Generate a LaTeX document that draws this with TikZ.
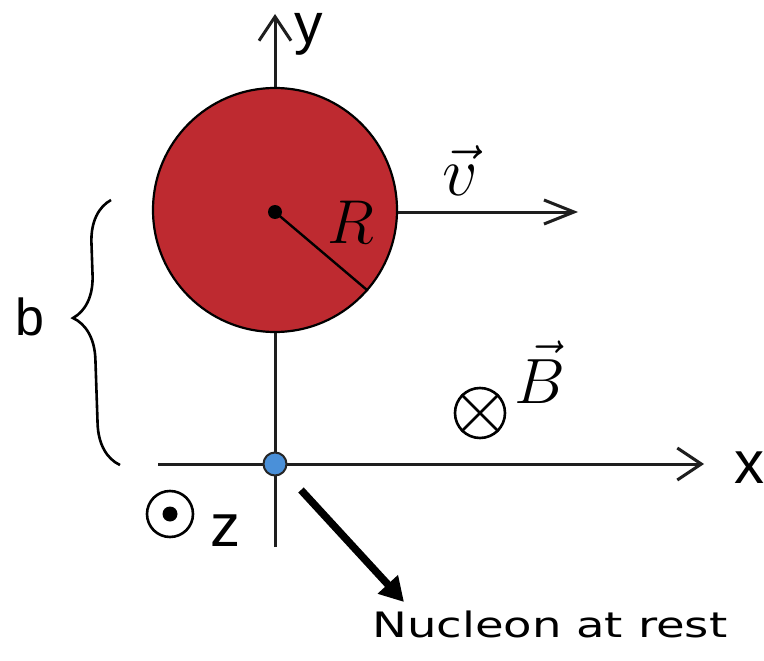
\RequirePackage{fix-cm}
\documentclass[tikz,border=0pt]{standalone}
\usepackage{fontspec}
\setsansfont{Liberation Sans}
\newfontfamily\notefont{DejaVu Sans}
\usetikzlibrary{arrows.meta,decorations.pathreplacing}
\definecolor{ballred}{RGB}{190,42,48}
\definecolor{nucblue}{RGB}{74,144,217}
\definecolor{axisgray}{RGB}{30,30,30}
\begin{document}
\begin{tikzpicture}[x=1pt,y=-1pt,
  axis/.style={line width=3pt, draw=axisgray, -{Straight Barb[length=24pt,width=32pt,line width=3pt]}},
  vecline/.style={line width=3pt, draw=axisgray, -{Straight Barb[length=30pt,width=24pt,line width=3pt]}},
  sanslbl/.style={font=\sffamily\fontsize{60}{64}\selectfont, inner sep=0pt, anchor=base},
  mathlbl/.style={inner sep=0pt, anchor=base},
  dirsym/.style={circle, draw=black, line width=2.6pt, inner sep=0pt},
  dotnode/.style={circle, fill=black, inner sep=0pt},
  pusharrow/.style={line width=7.5pt, -{Triangle[length=24pt,width=26pt]}}
]
\useasboundingbox (0,0) rectangle (764,661);
% axes
\coordinate (xs) at (158,464);
\coordinate (xe) at (704,464);
\coordinate (ys) at (275,547);
\coordinate (ye) at (275,14);
\draw[axis] (xs) -- (xe);
\draw[axis] (ys) -- (ye);
\node[sanslbl] (xl) at (749,483) {x};
\node[sanslbl, font=\sffamily\fontsize{57}{60}\selectfont] (yl) at (309,44) {y};
% ball
\node[circle, fill=ballred, draw=black, line width=2.2pt, minimum size=244pt, inner sep=0pt] (ball) at (275,210) {};
\node[dotnode, minimum size=14pt] (c) at (275,212) {};
\coordinate (rim) at (ball.-41);
\draw[line width=2.4pt] (c.center) -- (rim);
\node[mathlbl, font=\fontsize{62}{66}\selectfont] (R) at (351,243) {$R$};
% velocity
\coordinate (vend) at (578,212);
\draw[vecline] (ball.east |- c.center) -- (vend);
\node[mathlbl, font=\fontsize{70}{74}\selectfont] (vl) at (460,195) {$\vec{v}$};
% magnetic field
\node[dirsym, minimum size=50pt] (bf) at (480,413) {};
\draw[line width=2.6pt] (bf.45) -- (bf.225) (bf.135) -- (bf.-45);
\node[mathlbl, font=\fontsize{64}{68}\selectfont] (Bl) at (540,403) {$\vec{B}$};
% z direction
\node[dirsym, minimum size=46pt] (zd) at (170,514) {};
\node[dotnode, minimum size=15pt] at (zd.center) {};
\node[sanslbl] (zl) at (225,546) {z};
% brace
\coordinate (bb) at (120,465);
\coordinate (bt) at (111,200);
\draw[line width=2.6pt, decorate, decoration={brace, amplitude=42pt, aspect=0.56}] (bb) -- (bt);
\node[sanslbl, font=\sffamily\fontsize{52}{56}\selectfont] (bl) at (30,335) {b};
% nucleon
\node[circle, fill=nucblue, draw=black!85, line width=2pt, minimum size=23pt, inner sep=0pt] (nuc) at (275,464) {};
\node[font=\notefont\fontsize{35}{38}\selectfont, anchor=base west, inner sep=0pt] (note) at (372,637) {\scalebox{1.33}[1]{Nucleon at rest}};
\coordinate (ps) at (301,490);
\coordinate (pe) at (404,602);
\draw[pusharrow] (ps) -- (pe);
\end{tikzpicture}
\end{document}
